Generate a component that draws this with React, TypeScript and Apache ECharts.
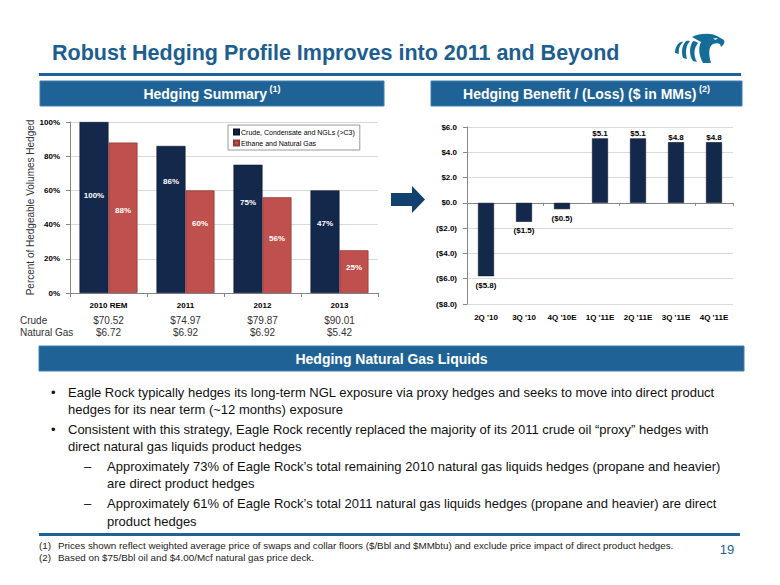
import React, { useEffect, useRef } from 'react';
import * as echarts from 'echarts';

// ---------- data ----------
const hedgeYears = ['2010 REM', '2011', '2012', '2013'];
const crudeHedged = [100, 86, 75, 60];
const crudeHedgedLabels = ['100%', '86%', '75%', '47%'];
const gasHedged = [88, 60, 56, 25];
const gasHedgedLabels = ['88%', '60%', '56%', '25%'];
const crudePrices = ['$70.52', '$74.97', '$79.87', '$90.01'];
const gasPrices = ['$6.72', '$6.92', '$6.92', '$5.42'];
const seriesNames = ['Crude, Condensate and NGLs (>C3)', 'Ethane and Natural Gas'];
const pctAxis = { min: 0, max: 100, interval: 20 };

const quarters = ["2Q '10", "3Q '10", "4Q '10E", "1Q '11E", "2Q '11E", "3Q '11E", "4Q '11E"];
const benefit = [-5.8, -1.5, -0.5, 5.1, 5.1, 4.8, 4.8];
const benefitAxis = { min: -8, max: 6, interval: 2 };

// label vertical nudges (style only)
const crudeLabelDy = [-12, -38, -26, -18];
const gasLabelDy = [-7, -18, -7, -4];

const FONT = "'Liberation Sans', Arial, Helvetica, sans-serif";
const BLUE = '#1f6396';
const NAVY = '#14284b';
const RED = '#c0504d';

const EAGLE_D =
  'M20 4 C28 0 39 0 45 3 L52 7 C53 9 52 12 49 14 L48 11 C46 10 43 10 41 11 C37 13 36 20 39 30 L31 30 C27 23 26 15 29 9 C26 7 23 6 20 4 Z ' +
  'M26 10 C22 15 21 22 25 29 L21 28 C17 22 17 14 21 8 C23 8 25 9 26 10 Z ' +
  'M18 8 C14 12 13 19 15 26 L11 25 C9 19 10 12 14 8 C15 7.5 17 7.5 18 8 Z ' +
  'M11 9 C8 12 6 16 7 21 L3 20 C3 15 5 11 9 9 C10 8.7 10.5 8.7 11 9 Z';

const fmtMoney = (v: number) => (v < 0 ? `($${Math.abs(v).toFixed(1)})` : `$${v.toFixed(1)}`);

function txt(x: number, y: number, text: string, size: number, opts: any = {}) {
  return {
    type: 'text',
    x,
    y,
    silent: true,
    style: {
      text,
      fontSize: size,
      fontFamily: FONT,
      fontWeight: opts.bold ? 'bold' : 'normal',
      fill: opts.color || '#000',
      align: opts.align || 'left',
      verticalAlign: 'middle',
    },
  };
}

function header(x: number, y: number, w: number, h: number, main: string, sup: string) {
  return [
    { type: 'rect', shape: { x, y, width: w, height: h }, style: { fill: BLUE, stroke: '#3f7fb3', lineWidth: 1 } },
    {
      type: 'text',
      x: x + w / 2,
      y: y + h / 2,
      style: {
        text: sup ? `{m|${main}}{s| ${sup}}` : `{m|${main}}`,
        align: 'center',
        verticalAlign: 'middle',
        rich: {
          m: { fontSize: 14, fontWeight: 'bold', fontFamily: FONT, fill: '#fff', lineHeight: 18 },
          s: { fontSize: 9, fontWeight: 'bold', fontFamily: FONT, fill: '#fff', lineHeight: 18, verticalAlign: 'top', padding: [0, 0, 6, 0] },
        },
      },
    },
  ];
}

const bodyLines: [number, number, string][] = [
  [51, 392, '•'],
  [68, 392, 'Eagle Rock typically hedges its long-term NGL exposure via proxy hedges and seeks to move into direct product'],
  [68, 409, 'hedges for its near term (~12 months) exposure'],
  [51, 429, '•'],
  [68, 429, 'Consistent with this strategy, Eagle Rock recently replaced the majority of its 2011 crude oil \u201Cproxy\u201D hedges with'],
  [68, 446, 'direct natural gas liquids product hedges'],
  [84, 466, '\u2013'],
  [107, 466, 'Approximately 73% of Eagle Rock\u2019s total remaining 2010 natural gas liquids hedges (propane and heavier)'],
  [107, 483, 'are direct product hedges'],
  [84, 503, '\u2013'],
  [107, 503, 'Approximately 61% of Eagle Rock\u2019s total 2011 natural gas liquids hedges (propane and heavier) are direct'],
  [107, 521, 'product hedges'],
];

export default function App() {
  const ref = useRef<HTMLDivElement>(null);

  useEffect(() => {
    if (!ref.current) return;
    echarts.graphic.registerShape('eagle', echarts.graphic.extendPath(EAGLE_D, {}) as any);
    const chart = echarts.init(ref.current, null, { renderer: 'svg' });

    const axisLineStyle = { color: '#868686', width: 1 };
    const splitStyle = { color: '#d9d9d9', width: 1 };

    const option: any = {
      animation: false,
      backgroundColor: '#fff',
      textStyle: { fontFamily: FONT },
      legend: {
        data: seriesNames,
        orient: 'vertical',
        left: 228,
        top: 125,
        icon: 'rect',
        itemWidth: 5,
        itemHeight: 5,
        itemGap: 3,
        padding: [3, 5, 3, 5],
        borderColor: '#7f7f7f',
        borderWidth: 0.8,
        backgroundColor: '#fff',
        selectedMode: false,
        textStyle: { fontSize: 7, color: '#000', fontFamily: FONT, lineHeight: 8, padding: [0, 0, 0, -3] },
      },
      grid: [
        { left: 70, right: 402, top: 122, bottom: 292 },
        { left: 467, right: 47, top: 127, bottom: 281 },
      ],
      xAxis: [
        {
          type: 'category',
          gridIndex: 0,
          position: 'bottom',
          data: hedgeYears,
          axisLine: { lineStyle: axisLineStyle },
          axisTick: { show: true, length: 4, lineStyle: axisLineStyle },
          axisLabel: { fontSize: 8, fontWeight: 'bold', color: '#000', margin: 8 },
        },
        {
          type: 'category',
          gridIndex: 0,
          position: 'bottom',
          data: crudePrices,
          axisLine: { show: false },
          axisTick: { show: false },
          axisLabel: { fontSize: 10, color: '#333', margin: 22 },
        },
        {
          type: 'category',
          gridIndex: 0,
          position: 'bottom',
          data: gasPrices,
          axisLine: { show: false },
          axisTick: { show: false },
          axisLabel: { fontSize: 10, color: '#333', margin: 34 },
        },
        {
          type: 'category',
          gridIndex: 1,
          position: 'bottom',
          data: quarters,
          axisLine: { show: false, onZero: false },
          axisTick: { show: false },
          axisLabel: { fontSize: 8, fontWeight: 'bold', color: '#000', margin: 9 },
        },
        {
          type: 'category',
          gridIndex: 1,
          position: 'bottom',
          data: quarters,
          axisLine: { show: true, onZero: true, lineStyle: axisLineStyle },
          axisTick: { show: true, length: 3, lineStyle: axisLineStyle },
          axisLabel: { show: false },
        },
      ],
      yAxis: [
        {
          type: 'value',
          gridIndex: 0,
          min: pctAxis.min,
          max: pctAxis.max,
          interval: pctAxis.interval,
          name: 'Percent of Hedgeable Volumes Hedged',
          nameLocation: 'middle',
          nameRotate: 90,
          nameGap: 33,
          nameTextStyle: { fontSize: 10, color: '#333', fontFamily: FONT },
          axisLine: { show: true, lineStyle: axisLineStyle },
          axisTick: { show: true, length: 4, lineStyle: axisLineStyle },
          splitLine: { show: true, lineStyle: splitStyle },
          axisLabel: { fontSize: 8, fontWeight: 'bold', color: '#000', margin: 10, formatter: '{value}%' },
        },
        {
          type: 'value',
          gridIndex: 1,
          min: benefitAxis.min,
          max: benefitAxis.max,
          interval: benefitAxis.interval,
          axisLine: { show: true, lineStyle: axisLineStyle },
          axisTick: { show: true, length: 4, lineStyle: axisLineStyle },
          splitLine: { show: true, lineStyle: splitStyle },
          axisLabel: { fontSize: 8, fontWeight: 'bold', color: '#000', margin: 10, formatter: (v: number) => fmtMoney(v) },
        },
      ],
      series: [
        {
          name: seriesNames[0],
          type: 'bar',
          xAxisIndex: 0,
          yAxisIndex: 0,
          barWidth: 29,
          barGap: '0%',
          itemStyle: { color: NAVY, borderColor: '#0a1730', borderWidth: 0.6 },
          label: { show: true, position: 'inside', color: '#fff', fontSize: 8, fontWeight: 'bold' },
          data: crudeHedged.map((v, i) => ({
            value: v,
            label: { formatter: crudeHedgedLabels[i], offset: [0, crudeLabelDy[i]] },
          })),
        },
        {
          name: seriesNames[1],
          type: 'bar',
          xAxisIndex: 0,
          yAxisIndex: 0,
          barWidth: 29,
          barGap: '0%',
          itemStyle: { color: RED, borderColor: '#953836', borderWidth: 0.8 },
          label: { show: true, position: 'inside', color: '#fff', fontSize: 8, fontWeight: 'bold' },
          data: gasHedged.map((v, i) => ({
            value: v,
            label: { formatter: gasHedgedLabels[i], offset: [0, gasLabelDy[i]] },
          })),
        },
        {
          name: 'Hedging Benefit / (Loss)',
          type: 'bar',
          xAxisIndex: 3,
          yAxisIndex: 1,
          barWidth: 16,
          itemStyle: { color: NAVY, borderColor: '#0a1730', borderWidth: 0.6 },
          label: {
            show: true,
            color: '#000',
            fontSize: 8,
            fontWeight: 'bold',
            formatter: (p: any) => fmtMoney(p.value),
          },
          data: benefit.map((v) => ({
            value: v,
            label: { position: v >= 0 ? 'top' : 'bottom', distance: v >= 0 ? 1 : 5 },
          })),
        },
      ],
      graphic: [
        txt(52, 53, 'Robust Hedging Profile Improves into 2011 and Beyond', 21.5, { bold: true, color: '#1d5e8f' }),
        { type: 'eagle', x: 672, y: 33, scaleX: 1, scaleY: 1, style: { fill: '#146c99' } },
        { type: 'polygon', shape: { points: [[713, 38.5], [718, 38], [715.5, 40]] }, style: { fill: '#fff' } },
        { type: 'rect', shape: { x: 39, y: 73, width: 702, height: 3 }, style: { fill: BLUE } },
        ...header(40, 81, 344, 25, 'Hedging Summary', '(1)'),
        ...header(431, 81, 311, 25, 'Hedging Benefit / (Loss) ($ in MMs)', '(2)'),
        ...header(39, 346, 705, 25, 'Hedging Natural Gas Liquids', ''),
        txt(20, 320, 'Crude', 10, { color: '#333' }),
        txt(20, 332.5, 'Natural Gas', 10, { color: '#333' }),
        {
          type: 'polygon',
          shape: { points: [[391, 193], [412, 193], [412, 186], [425, 199.5], [412, 213], [412, 206], [391, 206]] },
          style: { fill: '#12406f' },
        },
        ...bodyLines.map(([x, y, t]) => txt(x, y, t, 13, { color: '#111' })),
        { type: 'rect', shape: { x: 39, y: 533, width: 701, height: 3 }, style: { fill: BLUE } },
        txt(39, 545, '(1)', 9.8, { color: '#222' }),
        txt(58, 545, 'Prices shown reflect weighted average price of swaps and collar floors ($/Bbl and $MMbtu) and exclude price impact of direct product hedges.', 9.8, { color: '#222' }),
        txt(39, 557, '(2)', 9.8, { color: '#222' }),
        txt(58, 557, 'Based on $75/Bbl oil and $4.00/Mcf natural gas price deck.', 9.8, { color: '#222' }),
        txt(727, 549, '19', 13, { color: BLUE, align: 'center' }),
      ],
    };

    chart.setOption(option);
    return () => chart.dispose();
  }, []);

  return (
    <div
      ref={ref}
      style={{ position: 'fixed', left: 0, top: 0, width: 780, height: 585, background: '#fff' }}
    />
  );
}
